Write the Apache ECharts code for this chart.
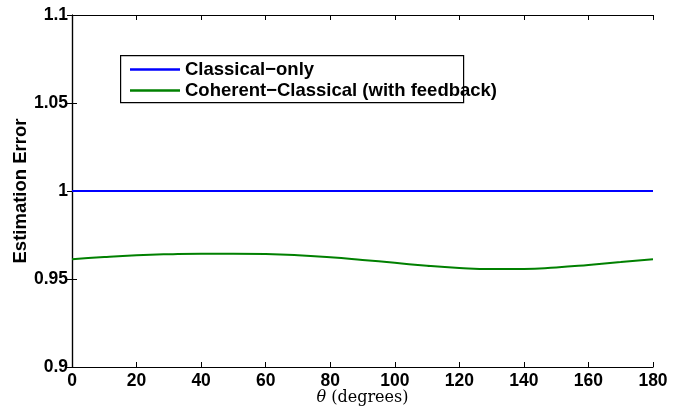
<!DOCTYPE html>
<html>
<head>
<meta charset="utf-8">
<script src="https://cdn.jsdelivr.net/npm/echarts@6/dist/echarts.min.js"></script>
<style>
 html,body{margin:0;padding:0;background:#fff;}
 #main{width:696px;height:409px;}
</style>
</head>
<body>
<div id="main"></div>
<script>
var thetas = [0, 10, 20, 30, 40, 50, 60, 70, 80, 90, 100, 110, 120, 130, 140, 150, 160, 170, 180];
var classicalOnly = [1, 1, 1, 1, 1, 1, 1, 1, 1, 1, 1, 1, 1, 1, 1, 1, 1, 1, 1];
var coherentClassical = [0.9612, 0.9625, 0.9635, 0.9641, 0.9644, 0.9644, 0.9642, 0.9635, 0.9623, 0.9608,
    0.9592, 0.9575, 0.9563, 0.9557, 0.9557, 0.9566, 0.9580, 0.9596, 0.9612];
var seriesNames = ['Classical\u2212only', 'Coherent\u2212Classical (with feedback)'];

var pairs = function (xs, ys) {
    var res = [];
    for (var i = 0; i < xs.length; i++) {
        res.push([xs[i], ys[i]]);
    }
    return res;
};

var labelFont = {color: '#000', fontWeight: 'bold', fontSize: 17.5, fontFamily: 'Liberation Sans, Arial'};
var axisLineStyle = {color: '#000', width: 1.2};

option = {
    backgroundColor: '#fff',
    animation: false,
    grid: {left: 72, right: 43, top: 15, bottom: 42, outerBoundsMode: 'none', containLabel: false},
    // legend frame, same size as in the reference (text runs past it)
    graphic: [{
        type: 'rect',
        left: 120, top: 55,
        shape: {width: 343, height: 47},
        style: {fill: '#fff', stroke: '#000', lineWidth: 1.2},
        z: 5
    }],
    legend: {
        orient: 'vertical',
        left: 130,
        top: 59,
        z: 10,
        data: seriesNames,
        itemWidth: 50,
        itemHeight: 2.5,
        itemGap: 0,
        padding: 0,
        icon: 'rect',
        textStyle: {color: '#000', fontWeight: 'bold', fontSize: 18.5, lineHeight: 21, fontFamily: 'Liberation Sans, Arial'}
    },
    xAxis: [{
        type: 'value',
        min: 0, max: 180, interval: 20,
        name: '{i|\u03b8} (degrees)',
        nameLocation: 'middle',
        nameGap: 23,
        nameMoveOverlap: false,
        nameTextStyle: {
            color: '#000', fontSize: 16, fontFamily: 'DejaVu Serif, Liberation Serif, serif',
            rich: {i: {fontStyle: 'italic', fontSize: 16, fontFamily: 'DejaVu Serif, Liberation Serif, serif'}}
        },
        axisLine: {lineStyle: axisLineStyle},
        axisTick: {inside: true, length: 5, lineStyle: {color: '#000'}},
        axisLabel: Object.assign({margin: 5}, labelFont),
        splitLine: {show: false}
    }, {
        type: 'value', position: 'top',
        min: 0, max: 180, interval: 20,
        axisLine: {lineStyle: axisLineStyle},
        axisTick: {inside: true, length: 5, lineStyle: {color: '#000'}},
        axisLabel: {show: false},
        splitLine: {show: false}
    }],
    yAxis: [{
        type: 'value',
        min: 0.9, max: 1.1, interval: 0.05,
        name: 'Estimation Error',
        nameLocation: 'middle',
        nameGap: 42,
        nameMoveOverlap: false,
        nameTextStyle: {color: '#000', fontWeight: 'bold', fontSize: 18.5, fontFamily: 'Liberation Sans, Arial'},
        axisLine: {show: true, lineStyle: axisLineStyle},
        axisTick: {show: true, inside: true, length: 5, lineStyle: {color: '#000'}},
        axisLabel: Object.assign({margin: 4}, labelFont),
        splitLine: {show: false}
    }, {
        type: 'value', position: 'right',
        min: 0.9, max: 1.1, interval: 0.05,
        axisLine: {show: true, lineStyle: axisLineStyle},
        axisTick: {show: true, inside: true, length: 5, lineStyle: {color: '#000'}},
        axisLabel: {show: false},
        splitLine: {show: false}
    }],
    series: [{
        name: seriesNames[0],
        type: 'line',
        data: pairs(thetas, classicalOnly),
        showSymbol: false,
        lineStyle: {color: '#0000ff', width: 2},
        itemStyle: {color: '#0000ff'}
    }, {
        name: seriesNames[1],
        type: 'line',
        smooth: true,
        data: pairs(thetas, coherentClassical),
        showSymbol: false,
        lineStyle: {color: '#008000', width: 2},
        itemStyle: {color: '#008000'}
    }]
};
var myChart = echarts.init(document.getElementById('main'));
myChart.setOption(option);
</script>
</body>
</html>
